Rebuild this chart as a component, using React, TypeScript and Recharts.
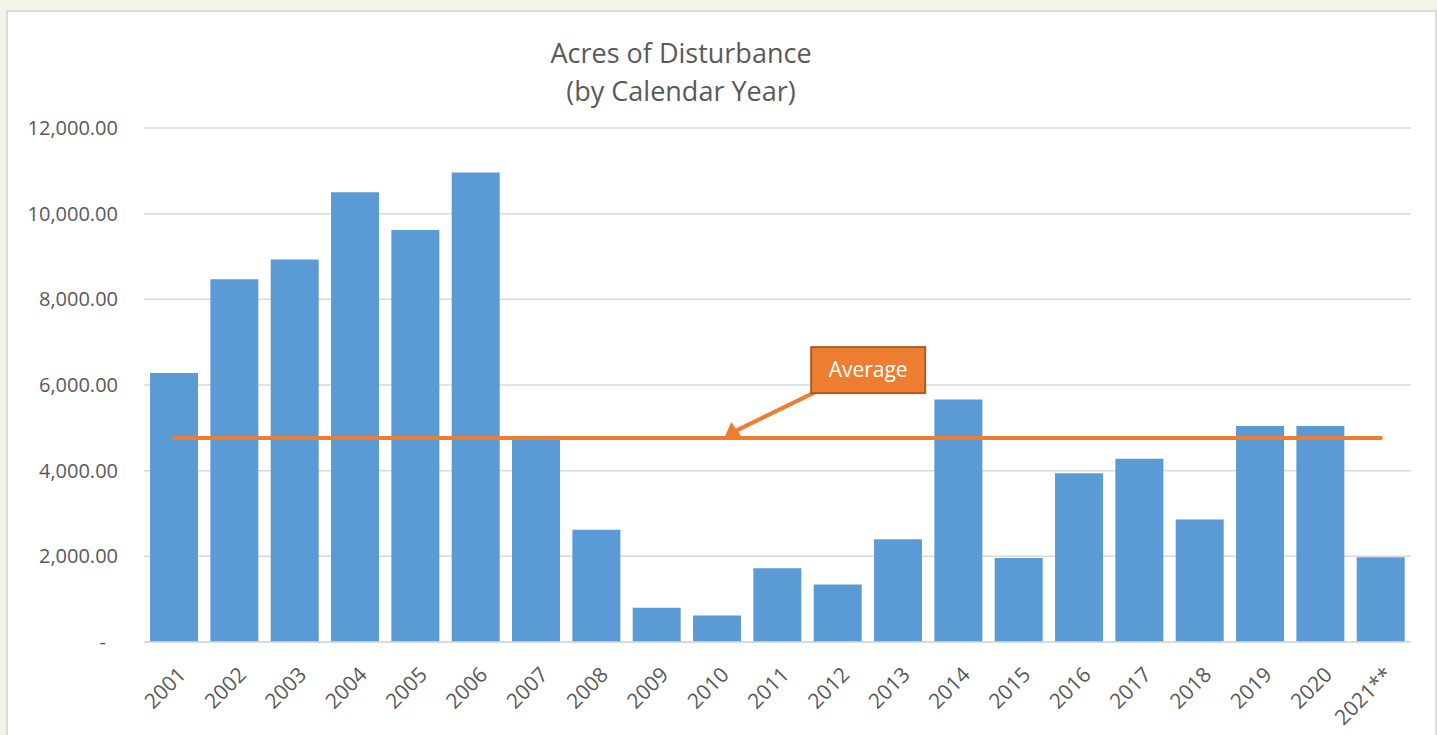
import { BarChart, Bar, XAxis, YAxis, CartesianGrid, ReferenceLine, ReferenceDot } from "recharts";

const years = ["2001", "2002", "2003", "2004", "2005", "2006", "2007", "2008", "2009", "2010", "2011", "2012", "2013", "2014", "2015", "2016", "2017", "2018", "2019", "2020", "2021**"];
const acres = [6280, 8470, 8930, 10500, 9620, 10960, 4770, 2620, 800, 620, 1720, 1340, 2400, 5660, 1960, 3940, 4280, 2860, 5040, 5040, 1980];
const average = 4760;
const yTicks = [0, 2000, 4000, 6000, 8000, 10000, 12000];

const data = years.map((year, i) => ({ year, acres: acres[i] }));

const FONT = "'Open Sans', sans-serif";
const TEXT = "#595959";

function YTick({ x, y, payload }: any) {
  const v = payload.value;
  const label = v === 0 ? "-" : v.toLocaleString("en-US", { minimumFractionDigits: 2 });
  return (
    <text x={v === 0 ? x - 12 : x} y={y} dy={7} textAnchor="end" fill={TEXT} fontSize={20} fontFamily={FONT}>
      {label}
    </text>
  );
}

function XTick({ x, y, payload }: any) {
  const tx = x + 13;
  const ty = y + 26;
  return (
    <text x={tx} y={ty} textAnchor="end" fill={TEXT} fontSize={21} fontFamily={FONT} transform={`rotate(-45 ${tx} ${ty})`}>
      {payload.value}
    </text>
  );
}

function Callout({ cx, cy }: any) {
  const bx = cx + 94;
  const by = cy - 91;
  return (
    <g>
      <line x1={cx + 98} y1={cy - 46} x2={cx + 18} y2={cy - 7} stroke="#ed7d31" strokeWidth={4} />
      <polygon points={`${cx + 8},${cy - 2} ${cx + 14},${cy - 16} ${cx + 24},${cy - 2}`} fill="#ed7d31" />
      <rect x={bx} y={by} width={114} height={46} fill="#ed7d31" stroke="#ae5a21" strokeWidth={2} />
      <text x={bx + 57} y={by + 30} textAnchor="middle" fill="#fff" fontSize={21} fontFamily={FONT}>
        Average
      </text>
    </g>
  );
}

export default function App() {
  return (
    <div style={{ position: "absolute", left: 0, top: 0, width: 1437, height: 735, background: "#f0f5e7", overflow: "hidden" }}>
      <div style={{ position: "absolute", left: 6, top: 10, width: 1427, height: 740, background: "#fff", border: "2px solid #dcdcdc" }} />
      <div style={{ position: "absolute", left: 0, top: 34, width: 1362, textAlign: "center", fontFamily: FONT, fontSize: 27, color: TEXT, lineHeight: "38px" }}>
        Acres of Disturbance
        <br />
        (by Calendar Year)
      </div>
      <div style={{ position: "absolute", left: 0, top: 0 }}>
        <BarChart width={1437} height={735} data={data} margin={{ top: 128, right: 26, bottom: 0, left: 0 }} barCategoryGap="10%">
          <CartesianGrid vertical={false} stroke="#d9d9d9" strokeWidth={1.5} />
          <XAxis dataKey="year" height={93} tick={<XTick />} tickLine={false} axisLine={{ stroke: "#d9d9d9", strokeWidth: 1.5 }} interval={0} />
          <YAxis width={144} domain={[0, 12000]} ticks={yTicks} tick={<YTick />} tickLine={false} axisLine={false} tickMargin={20} />
          <Bar dataKey="acres" fill="#5b9bd5" isAnimationActive={false} />
          <ReferenceLine
            segment={[{ x: years[0], y: average }, { x: years[years.length - 1], y: average }]}
            stroke="#ed7d31"
            strokeWidth={4}
            strokeLinecap="round"
          />
          <ReferenceDot x="2010" y={average} r={0} shape={<Callout />} />
        </BarChart>
      </div>
    </div>
  );
}
